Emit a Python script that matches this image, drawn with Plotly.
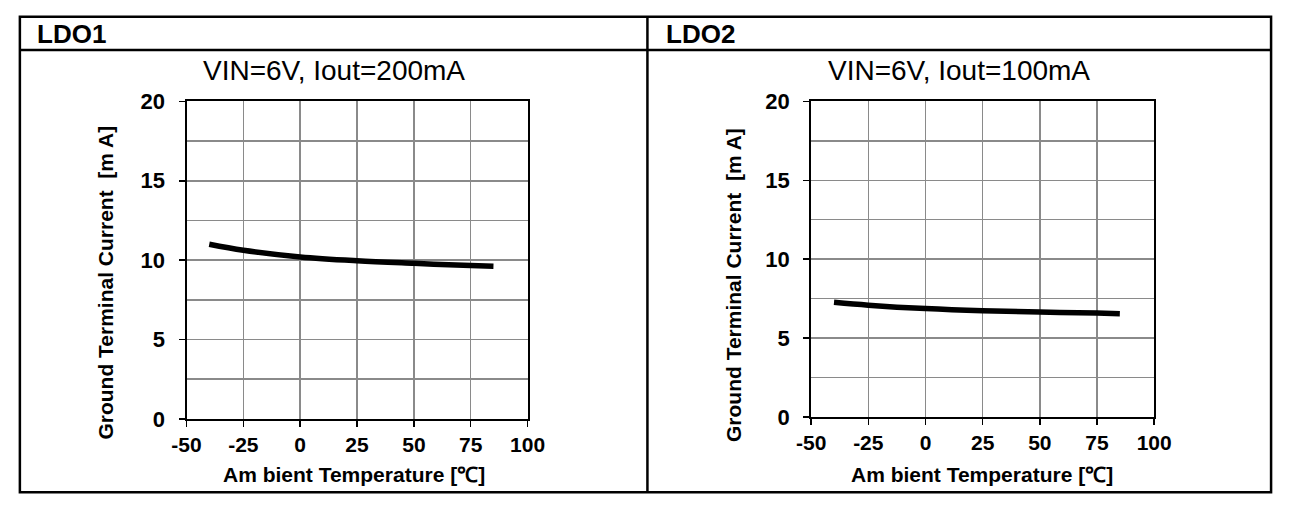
import plotly.graph_objects as go

# ---- data ----
temps = [-40, -25, 0, 25, 50, 75, 85]
ldo1_current = [11.0, 10.62, 10.2, 9.96, 9.8, 9.66, 9.62]
ldo2_current = [7.27, 7.09, 6.87, 6.73, 6.65, 6.59, 6.55]
x_ticks = [-50, -25, 0, 25, 50, 75, 100]
x_ticklabels = ["-50", "-25", "0", "25", "50", "75", "100"]
y_ticks = [0, 5, 10, 15, 20]
y_ticklabels = ["0", "5", "10", "15", "20"]
headers = ["LDO1", "LDO2"]
conditions = ["VIN=6V, Iout=200mA", "VIN=6V, Iout=100mA"]
x_title = "Am bient Temperature [℃]"
y_title = "Ground Terminal Current  [m A]"

W, H = 1292, 508
def px(x):
    return x / W
def py(y):
    return 1 - y / H

FONT = "Liberation Sans, Arial, Helvetica, sans-serif"
GRID = "#8a8a8a"

fig = go.Figure()
fig.add_trace(go.Scatter(x=temps, y=ldo1_current, mode="lines", line=dict(color="black", width=5.5, shape="spline"),
                         xaxis="x", yaxis="y", showlegend=False, hoverinfo="skip"))
fig.add_trace(go.Scatter(x=temps, y=ldo2_current, mode="lines", line=dict(color="black", width=5.5, shape="spline"),
                         xaxis="x2", yaxis="y2", showlegend=False, hoverinfo="skip"))

def xaxis(domain, anchor):
    return dict(domain=domain, anchor=anchor, range=[-50, 100], tickvals=x_ticks, ticktext=x_ticklabels,
                showline=True, linecolor="black", linewidth=2, mirror=True,
                showgrid=True, gridcolor=GRID, gridwidth=1.5,
                ticks="outside", ticklen=6, tickwidth=1.5, tickcolor="black",
                tickfont=dict(family=FONT, size=21, color="black", weight="bold"),
                zeroline=False, fixedrange=True)

def yaxis(domain, anchor):
    return dict(domain=domain, anchor=anchor, range=[0, 20], tickvals=y_ticks, ticktext=y_ticklabels,
                showline=True, linecolor="black", linewidth=2, mirror=True,
                showgrid=True, gridcolor=GRID, gridwidth=1.5,
                minor=dict(dtick=2.5, tick0=0, showgrid=True, gridcolor=GRID, gridwidth=1.5, ticks=""),
                ticks="outside", ticklen=6, tickwidth=1.5, tickcolor="black",
                ticklabelstandoff=9,
                tickfont=dict(family=FONT, size=22, color="black", weight="bold"),
                zeroline=False, fixedrange=True)

annotations = []
for x0, t in zip([21, 666], headers):
    annotations.append(dict(x=px(x0), y=py(23), xref="paper", yref="paper", text=t, showarrow=False,
                            xanchor="left", yanchor="middle",
                            font=dict(family=FONT, size=26, color="black", weight="bold")))
for xc, t in zip([327, 969], conditions):
    annotations.append(dict(x=px(xc), y=py(62), xref="paper", yref="paper", text=t, showarrow=False,
                            xanchor="center", yanchor="middle",
                            font=dict(family=FONT, size=28, color="black")))
for xc in [348, 992]:
    annotations.append(dict(x=px(xc), y=py(486), xref="paper", yref="paper", text=x_title, showarrow=False,
                            xanchor="center", yanchor="middle",
                            font=dict(family=FONT, size=21, color="black", weight="bold")))
for xc, yc in [(93, 285), (738, 287)]:
    annotations.append(dict(x=px(xc), y=py(yc), xref="paper", yref="paper", text=y_title, showarrow=False,
                            xanchor="center", yanchor="middle", textangle=-90,
                            font=dict(family=FONT, size=21, color="black", weight="bold")))

shapes = [
    dict(type="rect", xref="paper", yref="paper", x0=px(5), x1=px(1289), y0=py(505), y1=py(5),
         line=dict(color="black", width=2.5)),
    dict(type="line", xref="paper", yref="paper", x0=px(5), x1=px(1289), y0=py(40), y1=py(40),
         line=dict(color="black", width=2.5)),
    dict(type="line", xref="paper", yref="paper", x0=px(649), x1=px(649), y0=py(5), y1=py(505),
         line=dict(color="black", width=2.5)),
]

fig.update_layout(
    width=W, height=H, margin=dict(l=0, r=0, t=0, b=0),
    paper_bgcolor="white", plot_bgcolor="white",
    xaxis=xaxis([px(176), px(526)], "y"),
    yaxis=yaxis([py(428), py(94)], "x"),
    xaxis2=xaxis([px(817), px(1169)], "y2"),
    yaxis2=yaxis([py(426), py(94)], "x2"),
    annotations=annotations, shapes=shapes, showlegend=False,
    hovermode=False,
)

fig.write_html("out.html", config={"displayModeBar": False, "staticPlot": True},
               post_script="document.body.style.margin='0';document.body.style.overflow='hidden';")
